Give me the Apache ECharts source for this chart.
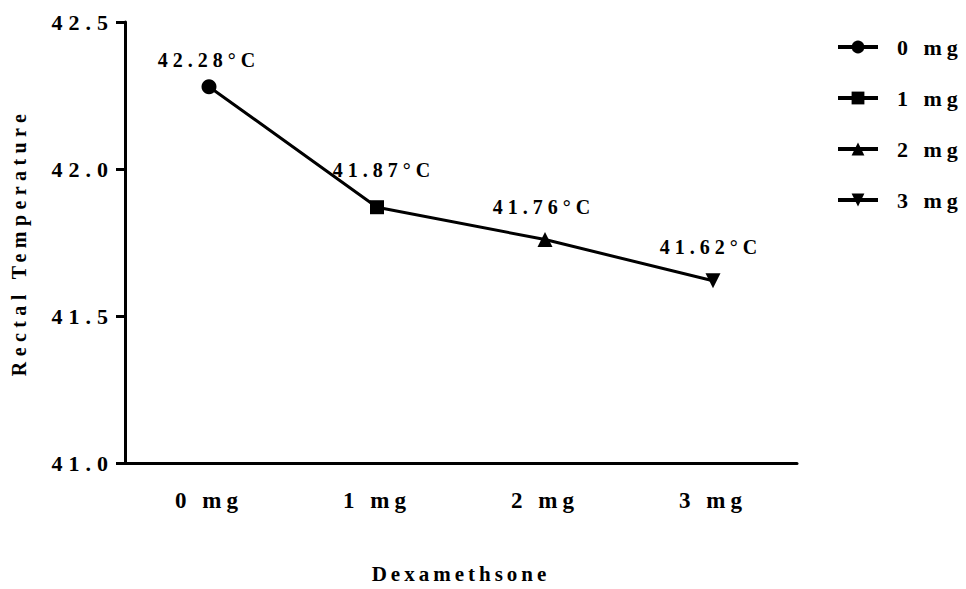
<!DOCTYPE html>
<html>
<head>
<meta charset="utf-8">
<script src="https://cdn.jsdelivr.net/npm/echarts@6/dist/echarts.min.js"></script>
<style>
  html, body { margin: 0; padding: 0; background: #fff; }
  #chart { width: 966px; height: 589px; }
</style>
</head>
<body>
<div id="chart"></div>
<script>
// ---- data ----
const categories = ['0 mg', '1 mg', '2 mg', '3 mg'];
const temperatures = [42.28, 41.87, 41.76, 41.62];
const legendNames = ['0 mg', '1 mg', '2 mg', '3 mg'];
const yMin = 41.0;
const yMax = 42.5;
const yInterval = 0.5;
const xAxisTitle = 'Dexamethsone';
const yAxisTitle = 'Rectal Temperature';

// ---- styles ----
const FONT = '"Liberation Serif", "Times New Roman", serif';
const invTriangle = 'path://M0,0 L10,0 L5,9 Z';
const symbols = ['circle', 'rect', 'triangle', invTriangle];
const symbolSizes = [15, 14, 15, 15];
const labelDistances = [9, 20, 15, 16];
const labelOffsets = [[0, 0], [7, 0], [-1, 0], [-2, 0]];

const chart = echarts.init(document.getElementById('chart'), null, { renderer: 'svg' });

const mainData = temperatures.map((v, i) => ({
  value: v,
  symbol: symbols[i],
  symbolSize: symbolSizes[i],
  label: { distance: labelDistances[i], offset: labelOffsets[i] }
}));

const legendSeries = legendNames.map((n, i) => ({
  name: n,
  type: 'line',
  data: [],
  symbol: symbols[i],
  symbolSize: symbolSizes[i],
  itemStyle: { color: '#000' },
  lineStyle: { color: '#000', width: 3 }
}));

chart.setOption({
  animation: false,
  backgroundColor: '#fff',
  textStyle: { fontFamily: FONT, fontWeight: 'bold', color: '#000' },
  grid: { left: 125, right: 169, top: 22, bottom: 121, containLabel: false },
  legend: {
    data: legendNames,
    orient: 'vertical',
    left: 836,
    top: 36,
    padding: 0,
    itemWidth: 40,
    itemHeight: 16,
    itemGap: 29,
    lineStyle: { color: '#000', width: 4 },
    itemStyle: { color: '#000' },
    textStyle: { fontFamily: FONT, fontWeight: 'bold', fontSize: 22, color: '#000', padding: [0, 0, 0, 14] }
  },
  xAxis: {
    type: 'category',
    data: categories,
    boundaryGap: true,
    name: xAxisTitle,
    nameLocation: 'middle',
    nameGap: 100,
    nameTextStyle: { fontFamily: FONT, fontWeight: 'bold', fontSize: 21, color: '#000' },
    axisLine: { lineStyle: { color: '#000', width: 3 } },
    axisTick: { alignWithLabel: true, length: 9, lineStyle: { color: '#000', width: 3 } },
    axisLabel: { fontFamily: FONT, fontWeight: 'bold', fontSize: 23, color: '#000', margin: 26 }
  },
  yAxis: {
    type: 'value',
    min: yMin,
    max: yMax,
    interval: yInterval,
    name: yAxisTitle,
    nameLocation: 'middle',
    nameGap: 96,
    nameRotate: 90,
    nameTextStyle: { fontFamily: FONT, fontWeight: 'bold', fontSize: 20, color: '#000' },
    splitLine: { show: false },
    axisLine: { show: true, lineStyle: { color: '#000', width: 3 } },
    axisTick: { show: true, length: 9, lineStyle: { color: '#000', width: 3 } },
    axisLabel: {
      fontFamily: FONT, fontWeight: 'bold', fontSize: 22, color: '#000', margin: 11,
      formatter: v => v.toFixed(1)
    }
  },
  series: [
    {
      name: 'Rectal Temperature',
      type: 'line',
      data: mainData,
      itemStyle: { color: '#000' },
      lineStyle: { color: '#000', width: 3 },
      label: {
        show: true,
        position: 'top',
        fontFamily: FONT,
        fontWeight: 'bold',
        fontSize: 20,
        color: '#000',
        formatter: p => p.value.toFixed(2) + '°C'
      },
      z: 3
    }
  ].concat(legendSeries)
});

// letter spacing, as in the reference typography
function applySpacing() {
  document.querySelectorAll('#chart svg text').forEach(t => {
    const s = t.textContent;
    let ls = 0;
    if (/^\d+\.\d$/.test(s)) ls = 6;
    else if (/°C$/.test(s)) ls = 5;
    else if (legendNames.indexOf(s) >= 0) ls = 5;
    else if (s === yAxisTitle) ls = 5.4;
    else if (s === xAxisTitle) ls = 4;
    t.style.letterSpacing = ls + 'px';
  });
}
chart.on('finished', applySpacing);
applySpacing();
</script>
</body>
</html>
